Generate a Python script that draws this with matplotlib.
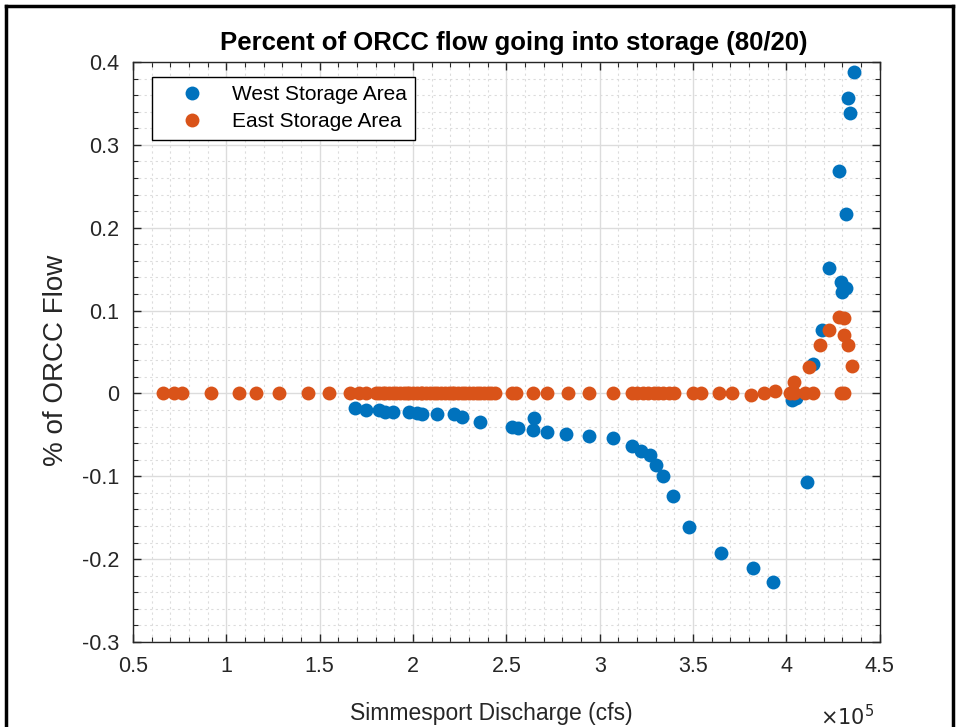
import matplotlib
matplotlib.use('Agg')
import matplotlib.pyplot as plt
from matplotlib.lines import Line2D
from matplotlib.ticker import MultipleLocator, FuncFormatter

plt.rcParams['font.family'] = ['Liberation Sans', 'DejaVu Sans']
plt.rcParams['axes.unicode_minus'] = False

# discharge in units of 1e5 cfs, fraction of ORCC flow
west_x = [1.69, 1.75, 1.82, 1.85, 1.89, 1.98, 2.02, 2.05, 2.13, 2.22, 2.26, 2.36,
          2.53, 2.56, 2.64, 2.65, 2.72, 2.82, 2.94, 3.07, 3.17, 3.22, 3.27, 3.30,
          3.34, 3.39, 3.48, 3.65, 3.82, 3.93, 4.03, 4.05, 4.11, 4.14, 4.19, 4.23,
          4.28, 4.29, 4.30, 4.32, 4.32, 4.33, 4.34, 4.36]
west_y = [-0.018, -0.020, -0.020, -0.022, -0.023, -0.023, -0.024, -0.025, -0.025, -0.025, -0.028, -0.035,
          -0.041, -0.042, -0.044, -0.030, -0.047, -0.049, -0.051, -0.054, -0.0635, -0.069, -0.074, -0.086,
          -0.100, -0.124, -0.161, -0.192, -0.211, -0.227, -0.008, -0.006, -0.107, 0.036, 0.077, 0.151,
          0.269, 0.135, 0.123, 0.127, 0.216, 0.356, 0.338, 0.388]

east_x = [0.66, 0.72, 0.76, 0.92, 1.07, 1.16, 1.28, 1.44, 1.55, 1.66, 1.71, 1.75,
          1.80, 1.82, 1.84, 1.85, 1.87, 1.89, 1.91, 1.93, 1.95, 1.97, 1.98, 2.00,
          2.02, 2.04, 2.05, 2.07, 2.09, 2.11, 2.13, 2.15, 2.17, 2.19, 2.21, 2.22,
          2.24, 2.26, 2.28, 2.30, 2.32, 2.34, 2.36, 2.38, 2.40, 2.42, 2.44,
          2.53, 2.55, 2.64, 2.72, 2.83, 2.94, 3.07, 3.17, 3.20, 3.23, 3.26, 3.29,
          3.31, 3.34, 3.37, 3.40, 3.50, 3.54, 3.64, 3.71, 3.81, 3.88, 3.94, 4.02,
          4.04, 4.10, 4.14, 4.29, 4.31, 4.04, 4.12, 4.18, 4.23, 4.28, 4.31, 4.31,
          4.33, 4.35]
east_y = [0, 0, 0, 0, 0, 0, 0, 0, 0, 0, 0, 0,
          0, 0, 0, 0, 0, 0, 0, 0, 0, 0, 0, 0,
          0, 0, 0, 0, 0, 0, 0, 0, 0, 0, 0, 0,
          0, 0, 0, 0, 0, 0, 0, 0, 0, 0, 0,
          0, 0, 0, 0, 0, 0, 0, 0, 0, 0, 0, 0,
          0, 0, 0, 0, 0, 0, 0, 0, -0.002, 0, 0.003, 0,
          0, 0, 0, 0, 0, 0.014, 0.032, 0.058, 0.0765, 0.0925, 0.0905, 0.070,
          0.058, 0.033]

blue = '#0072BD'
orange = '#D95319'
dark = '#262626'
msize = 10

fig = plt.figure(figsize=(9.6, 7.27), dpi=100)
ax = fig.add_axes([0.1385, 0.1169, 0.778, 0.7978])

ax.plot(west_x, west_y, 'o', color=blue, markersize=msize, markeredgewidth=0)
ax.plot(east_x, east_y, 'o', color=orange, markersize=msize, markeredgewidth=0)

ax.set_xlim(0.5, 4.5)
ax.set_ylim(-0.3, 0.4)
ax.xaxis.set_major_locator(MultipleLocator(0.5))
ax.xaxis.set_minor_locator(MultipleLocator(0.1))
ax.yaxis.set_major_locator(MultipleLocator(0.1))
ax.yaxis.set_minor_locator(MultipleLocator(0.02))
ax.xaxis.set_major_formatter(FuncFormatter(lambda v, p: f'{v:g}'))
ax.yaxis.set_major_formatter(FuncFormatter(lambda v, p: f'{round(v, 2):g}'))

ax.grid(which='major', color='#dcdcdc', linewidth=1.0, linestyle='-')
ax.grid(which='minor', color='#dcdcdc', linewidth=0.8, linestyle=(0, (2, 3)))
ax.set_axisbelow(True)

ax.tick_params(which='both', direction='in', top=True, right=True, colors=dark,
               labelsize=15.5, labelcolor=dark)
ax.tick_params(which='major', length=6, width=1.0, pad=10)
ax.tick_params(which='minor', length=3.5, width=0.8)
for s in ax.spines.values():
    s.set_linewidth(1.0)
    s.set_color(dark)

ax.set_title('Percent of ORCC flow going into storage (80/20)', fontsize=18.5,
             fontweight='bold', pad=9, x=0.51)
ax.set_xlabel('Simmesport Discharge (cfs)', fontsize=16.5, color=dark)
ax.set_ylabel('% of ORCC Flow', fontsize=20, color=dark)
ax.xaxis.set_label_coords(0.48, -0.103)
ax.yaxis.set_label_coords(-0.085, 0.485)
ax.text(0.956, -0.128, r'$\times10^5$', transform=ax.transAxes, fontsize=15,
        color=dark, ha='center', va='center')

handles = [Line2D([], [], marker='o', linestyle='', color=blue, markersize=msize, markeredgewidth=0),
           Line2D([], [], marker='o', linestyle='', color=orange, markersize=msize, markeredgewidth=0)]
leg = ax.legend(handles, ['West Storage Area', 'East Storage Area'], loc='upper left',
                bbox_to_anchor=(0.0254, 0.974), fontsize=15, fancybox=False,
                edgecolor='black', framealpha=1, handletextpad=0.45, borderpad=0.4,
                labelspacing=0.38, handlelength=3.0, borderaxespad=0)
leg.get_frame().set_linewidth(1.0)

# outer screenshot frame
for xs, ys in [([0.006, 0.006], [0, 0.992]), ([0.006, 0.993], [0.992, 0.992]),
               ([0.993, 0.993], [0, 0.992])]:
    fig.add_artist(Line2D(xs, ys, color='black', linewidth=2.5, transform=fig.transFigure))

fig.savefig('out.png', dpi=100)
